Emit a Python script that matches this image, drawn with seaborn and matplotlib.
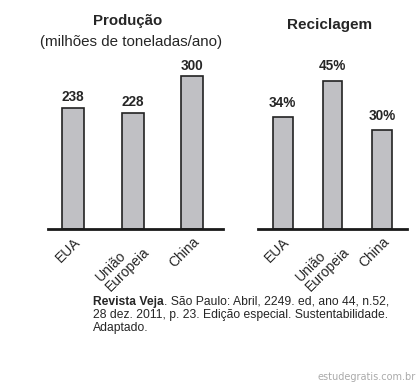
import matplotlib
matplotlib.use("Agg")
import matplotlib.pyplot as plt
import seaborn as sns

sns.set_style("white")
plt.rcParams['font.family'] = ['Liberation Sans', 'DejaVu Sans']

# data
regioes = ["EUA", "União\nEuropeia", "China"]
producao = [238, 228, 300]
reciclagem = [34, 45, 30]
producao_labels = ["238", "228", "300"]
reciclagem_labels = ["34%", "45%", "30%"]

bar_color = "#c0c0c4"

fig = plt.figure(figsize=(4.18, 3.83), dpi=100)

ax1 = fig.add_axes([48/418, 1 - 229/383, 175/418, 168/383])
ax2 = fig.add_axes([258/418, 1 - 229/383, 149/418, 165/383])


def draw(ax, vals, labels, width, xlim, ylim, offset):
    sns.barplot(x=list(range(3)), y=vals, ax=ax, color=bar_color,
                edgecolor="#222222", linewidth=1.2, width=width,
                saturation=1, native_scale=True)
    ax.set_xlim(*xlim)
    ax.set_ylim(*ylim)
    ax.set_yticks([])
    ax.set_xticks(range(3))
    ax.set_xticklabels(regioes, rotation=45, ha="right",
                       rotation_mode="anchor", fontsize=10, linespacing=1.0,
                       multialignment="left")
    ax.tick_params(axis="x", length=0, pad=4)
    for s in ["left", "right", "top"]:
        ax.spines[s].set_visible(False)
    ax.spines["bottom"].set_linewidth(2)
    ax.spines["bottom"].set_color("#1a1a1a")
    ax.set_xlabel("")
    ax.set_ylabel("")
    for i, (v, lab) in enumerate(zip(vals, labels)):
        ax.text(i, v + offset, lab, ha="center", va="bottom",
                fontsize=9.8, fontweight="bold")


draw(ax1, producao, producao_labels, 0.37, (-0.42, 2.52), (0, 330), 7)
draw(ax2, reciclagem, reciclagem_labels, 0.40, (-0.5, 2.5), (0, 50), 2.2)

fig.text(128/418, 1 - 21/383, "Produção", ha="center", va="center",
         fontsize=10.8, fontweight="bold")
fig.text(131/418, 1 - 42/383, "(milhões de toneladas/ano)", ha="center",
         va="center", fontsize=10.9)
fig.text(330/418, 1 - 25/383, "Reciclagem", ha="center", va="center",
         fontsize=11, fontweight="bold")

# source, bold part then regular part
src = fig.text(93/418, 1 - 302/383, "Revista Veja", ha="left", va="center",
               fontsize=8.7, fontweight="bold")
renderer = fig.canvas.get_renderer()
bb = src.get_window_extent(renderer=renderer)
fig.text(bb.x1 / fig.bbox.width, 1 - 302/383,
         ". São Paulo: Abril, 2249. ed, ano 44, n.52,",
         ha="left", va="center", fontsize=8.7)
fig.text(93/418, 1 - 315/383,
         "28 dez. 2011, p. 23. Edição especial. Sustentabilidade.",
         ha="left", va="center", fontsize=8.7)
fig.text(93/418, 1 - 328/383, "Adaptado.", ha="left", va="center",
         fontsize=8.7)

fig.text(416/418, 1 - 377/383, "estudegratis.com.br", ha="right",
         va="center", fontsize=7, color="#aaaaaa", family="DejaVu Sans")

fig.savefig("out.png", dpi=100)
